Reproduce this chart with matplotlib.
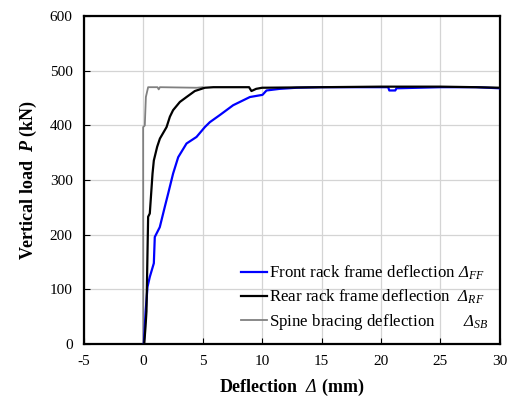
import matplotlib
matplotlib.use("Agg")
import matplotlib.pyplot as plt

plt.rcParams['font.family'] = ['Liberation Serif', 'DejaVu Serif']
plt.rcParams['mathtext.fontset'] = 'custom'
plt.rcParams['mathtext.rm'] = 'Liberation Serif'
plt.rcParams['mathtext.it'] = 'Liberation Serif:italic'
plt.rcParams['mathtext.bf'] = 'Liberation Serif:bold'
plt.rcParams['mathtext.sf'] = 'Liberation Serif:italic'
plt.rcParams['mathtext.bfit'] = 'Liberation Serif:italic:bold'
plt.rcParams['axes.unicode_minus'] = False

# Front rack frame deflection (blue)
front_x = [0.05, 0.1, 0.2, 0.36, 0.55, 0.89, 0.97, 1.39, 1.81, 2.09, 2.51, 2.94, 3.64,
           4.48, 5.18, 5.60, 6.44, 7.56, 8.97, 10.03, 10.37, 11.49, 12.9, 15.0, 20.6,
           20.7, 21.2, 21.3, 25.0, 28.0, 30.0]
front_p = [0, 20, 60, 105, 123, 148, 196, 214, 251, 275, 312, 342, 367,
           379, 397, 406, 419, 437, 452, 456, 464, 467, 469, 470, 470,
           464, 464, 468, 470, 470, 468]

# Rear rack frame deflection (black)
rear_x = [0.08, 0.19, 0.27, 0.41, 0.55, 0.78, 0.89, 1.17, 1.40, 1.96, 2.24, 2.51, 3.08,
          3.64, 4.34, 5.18, 5.9, 8.9, 9.1, 9.5, 10.0, 15.0, 20.0, 25.0, 28.0, 30.0]
rear_p = [0, 32, 60, 233, 239, 312, 336, 361, 376, 397, 416, 428, 443,
          452, 463, 469, 470, 470, 463, 467, 469, 470, 471, 471, 470, 469]

# Spine bracing deflection (gray)
spine_x = [0.0, -0.01, 0.13, 0.22, 0.41, 1.2, 1.3, 1.4, 4.5, 5.0]
spine_p = [0, 397, 400, 452, 470, 470, 466, 470, 469, 470]

labels = ["Front rack frame deflection $\\mathsf{Δ}_{FF}$",
          "Rear rack frame deflection  $\\mathsf{Δ}_{RF}$",
          "Spine bracing deflection       $\\mathsf{Δ}_{SB}$"]

fig = plt.figure(figsize=(5.08, 4.03), dpi=100)
ax = fig.add_axes([0.165, 0.146, 0.819, 0.814])

ax.plot(front_x, front_p, color='#0000ff', lw=1.6, label=labels[0], zorder=3)
ax.plot(rear_x, rear_p, color='black', lw=1.6, label=labels[1], zorder=4)
ax.plot(spine_x, spine_p, color='#808080', lw=1.3, label=labels[2], zorder=2)

ax.set_xlim(-5, 30)
ax.set_ylim(0, 600)
ax.set_xticks(range(-5, 31, 5))
ax.set_yticks(range(0, 601, 100))
ax.grid(True, color='#d4d4d4', lw=0.9)
ax.set_axisbelow(True)
ax.tick_params(direction='in', length=4, width=0.8, labelsize=11, pad=8)
for s in ax.spines.values():
    s.set_linewidth(1.6)

ax.set_xlabel("Deflection  $\\mathsf{Δ}$ (mm)", fontsize=13, fontweight='bold', labelpad=6)
ax.set_ylabel("Vertical load  $\\mathbfit{P}$ (kN)", fontsize=13, fontweight='bold', labelpad=8)

leg = ax.legend(loc='lower right', frameon=False, fontsize=12.2, handlelength=1.5,
                handletextpad=0.1, labelspacing=0.35, borderaxespad=0.3)

fig.savefig('out.png', dpi=100)
